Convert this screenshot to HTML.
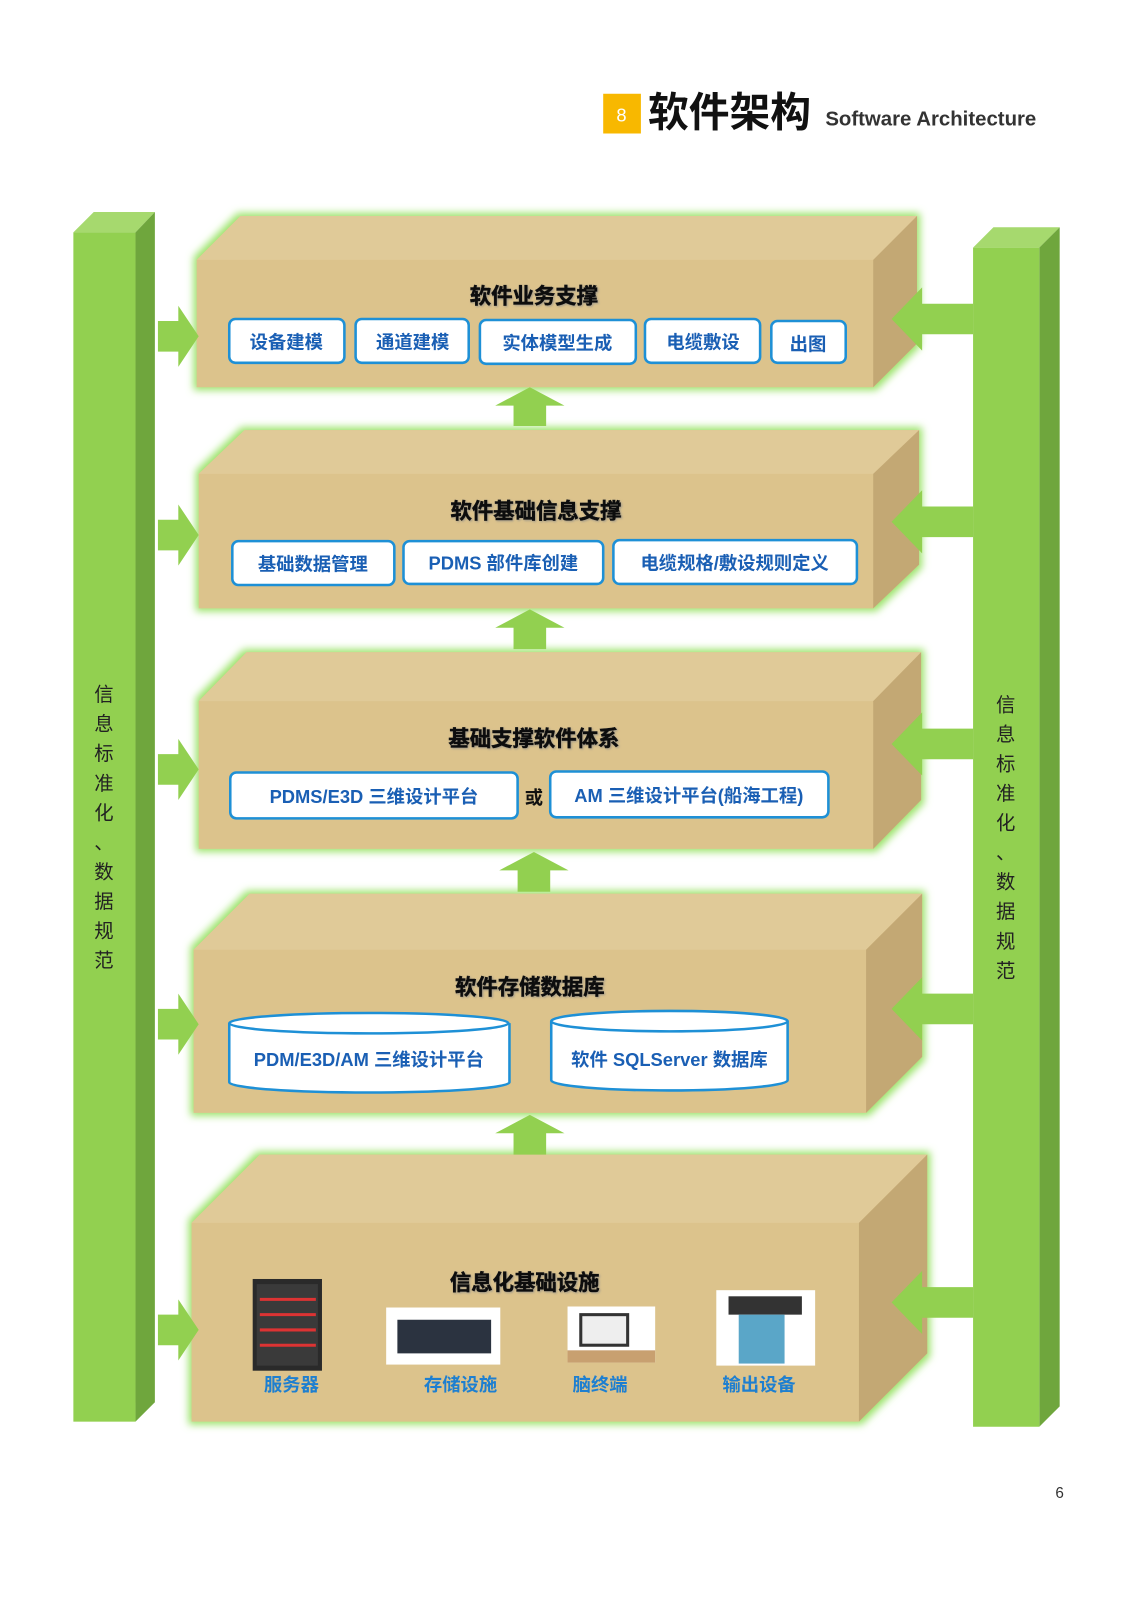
<!DOCTYPE html>
<html><head><meta charset="utf-8"><style>
html,body{margin:0;padding:0;background:#fff;}
svg{display:block;}
text{font-family:"Liberation Sans","Noto Sans CJK SC",sans-serif;}
</style></head><body>
<svg width="1131" height="1600" viewBox="0 0 1110 1570" preserveAspectRatio="none" xmlns="http://www.w3.org/2000/svg">
<defs>
<filter id="g" x="-10%" y="-10%" width="120%" height="120%">
<feMorphology in="SourceAlpha" operator="dilate" radius="3" result="d"/>
<feGaussianBlur in="d" stdDeviation="4" result="b"/>
<feFlood flood-color="#9be36a"/>
<feComposite in2="b" operator="in" result="s"/>
<feMerge><feMergeNode in="s"/><feMergeNode in="SourceGraphic"/></feMerge>
</filter>
<filter id="ts"><feDropShadow dx="1" dy="1" stdDeviation="1" flood-color="#888" flood-opacity="0.7"/></filter>
</defs>

<rect x="592" y="92" width="37" height="39" fill="#f8b800"/>
<text x="610" y="119" font-size="18" fill="#fff" text-anchor="middle">8</text>
<text x="636" y="124" font-size="40" font-weight="bold" fill="#111">软件架构</text>
<text x="810" y="123" font-size="20" font-weight="bold" fill="#333">Software Architecture</text>

<polygon points="72,228 92,208 152,208 133,228" fill="#a6d96e"/>
<polygon points="133,228 152,208 152,1376 133,1395" fill="#6fa63d"/>
<rect x="72" y="228" width="61" height="1167" fill="#92d050"/>
<polygon points="955,243 975,223 1040,223 1020,243" fill="#a6d96e"/>
<polygon points="1020,243 1040,223 1040,1380 1020,1400" fill="#6fa63d"/>
<rect x="955" y="243" width="65" height="1157" fill="#92d050"/>

<g font-size="19" fill="#222" text-anchor="middle">
<text x="102" y="688">信</text><text x="102" y="717">息</text><text x="102" y="746">标</text><text x="102" y="775">准</text><text x="102" y="804">化</text><text x="102" y="833">、</text><text x="102" y="862">数</text><text x="102" y="891">据</text><text x="102" y="920">规</text><text x="102" y="949">范</text>
<text x="987" y="698">信</text><text x="987" y="727">息</text><text x="987" y="756">标</text><text x="987" y="785">准</text><text x="987" y="814">化</text><text x="987" y="843">、</text><text x="987" y="872">数</text><text x="987" y="901">据</text><text x="987" y="930">规</text><text x="987" y="959">范</text>
</g>

<g filter="url(#g)">
<polygon points="193,255 236,212 900,212 900,337 857,380 193,380" fill="#dcc38c"/>
<polygon points="195,465 240,422 902,422 902,554 857,597 195,597" fill="#dcc38c"/>
<polygon points="195,688 242,640 904,640 904,785 857,833 195,833" fill="#dcc38c"/>
<polygon points="190,932 245,877 905,877 905,1037 850,1092 190,1092" fill="#dcc38c"/>
<polygon points="188,1200 255,1133 910,1133 910,1328 843,1395 188,1395" fill="#dcc38c"/>
</g>
<g fill="#e0ca98">
<polygon points="193,255 236,212 900,212 857,255"/>
<polygon points="195,465 240,422 902,422 857,465"/>
<polygon points="195,688 242,640 904,640 857,688"/>
<polygon points="190,932 245,877 905,877 850,932"/>
<polygon points="188,1200 255,1133 910,1133 843,1200"/>
</g>
<g fill="#c3a874">
<polygon points="857,255 900,212 900,337 857,380"/>
<polygon points="857,465 902,422 902,554 857,597"/>
<polygon points="857,688 904,640 904,785 857,833"/>
<polygon points="850,932 905,877 905,1037 850,1092"/>
<polygon points="843,1200 910,1133 910,1328 843,1395"/>
</g>

<g fill="#92d050">
<polygon points="486,398 520,380 554,398 536,398 536,418 504,418 504,398"/>
<polygon points="486,616 520,598 554,616 536,616 536,637 504,637 504,616"/>
<polygon points="490,854 524,836 558,854 540,854 540,875 508,875 508,854"/>
<polygon points="486,1112 520,1094 554,1112 536,1112 536,1133 504,1133 504,1112"/>
</g>
<g fill="#92d050">
<polygon points="155,315 175,315 175,300 195,330 175,360 175,345 155,345"/>
<polygon points="155,510 175,510 175,495 195,525 175,555 175,540 155,540"/>
<polygon points="155,740 175,740 175,725 195,755 175,785 175,770 155,770"/>
<polygon points="155,990 175,990 175,975 195,1005 175,1035 175,1020 155,1020"/>
<polygon points="155,1290 175,1290 175,1275 195,1305 175,1335 175,1320 155,1320"/>
</g>
<g fill="#92d050">
<polygon points="955,298 905,298 905,282 875,313 905,344 905,328 955,328"/>
<polygon points="955,497 905,497 905,481 875,512 905,543 905,527 955,527"/>
<polygon points="955,715 905,715 905,699 875,730 905,761 905,745 955,745"/>
<polygon points="955,975 905,975 905,959 875,990 905,1021 905,1005 955,1005"/>
<polygon points="955,1263 905,1263 905,1247 875,1278 905,1309 905,1293 955,1293"/>
</g>

<g font-size="21" font-weight="bold" fill="#111" stroke="#111" stroke-width="0.6" text-anchor="middle" filter="url(#ts)">
<text x="524" y="298">软件业务支撑</text>
<text x="526" y="509">软件基础信息支撑</text>
<text x="524" y="732">基础支撑软件体系</text>
<text x="520" y="976">软件存储数据库</text>
<text x="515" y="1266">信息化基础设施</text>
</g>

<g fill="#fff" stroke="#1e90d6" stroke-width="2.5">
<rect x="225" y="313" width="113" height="43" rx="6"/>
<rect x="349" y="313" width="111" height="43" rx="6"/>
<rect x="471" y="314" width="153" height="43" rx="6"/>
<rect x="633" y="313" width="113" height="43" rx="6"/>
<rect x="757" y="315" width="73" height="41" rx="6"/>
<rect x="228" y="531" width="159" height="43" rx="6"/>
<rect x="396" y="531" width="196" height="42" rx="6"/>
<rect x="602" y="530" width="239" height="43" rx="6"/>
<rect x="226" y="758" width="282" height="45" rx="6"/>
<rect x="540" y="757" width="273" height="45" rx="6"/>
</g>
<g font-size="18" font-weight="bold" fill="#1a5fb4" text-anchor="middle">
<text x="281" y="342">设备建模</text>
<text x="405" y="342">通道建模</text>
<text x="547" y="343">实体模型生成</text>
<text x="690" y="342">电缆敷设</text>
<text x="793" y="344">出图</text>
<text x="307" y="560">基础数据管理</text>
<text x="494" y="559">PDMS 部件库创建</text>
<text x="721" y="559">电缆规格/敷设规则定义</text>
<text x="367" y="788">PDMS/E3D 三维设计平台</text>
<text x="676" y="787">AM 三维设计平台(船海工程)</text>
</g>
<text x="524" y="789" font-size="18" font-weight="bold" fill="#111" text-anchor="middle">或</text>

<g fill="#fff" stroke="#1e90d6" stroke-width="2.5">
<path d="M225,1004 L225,1062 A137,10 0 0 0 500,1062 L500,1004"/>
<ellipse cx="362" cy="1004" rx="137" ry="10"/>
<path d="M541,1002 L541,1060 A116,10 0 0 0 773,1060 L773,1002"/>
<ellipse cx="657" cy="1002" rx="116" ry="10"/>
</g>
<g font-size="18" font-weight="bold" fill="#1a5fb4" text-anchor="middle">
<text x="362" y="1046">PDM/E3D/AM 三维设计平台</text>
<text x="657" y="1046">软件 SQLServer 数据库</text>
</g>

<rect x="248" y="1255" width="68" height="90" fill="#2a2a2a"/>
<rect x="252" y="1260" width="60" height="80" fill="#3a3a3a"/>
<g stroke-width="3"><line x1="255" y1="1275" x2="310" y2="1275" stroke="#d33"/><line x1="255" y1="1290" x2="310" y2="1290" stroke="#d33"/><line x1="255" y1="1305" x2="310" y2="1305" stroke="#d33"/><line x1="255" y1="1320" x2="310" y2="1320" stroke="#d33"/></g>
<rect x="379" y="1283" width="112" height="56" fill="#fff"/>
<rect x="390" y="1295" width="92" height="33" fill="#2b3340"/>
<rect x="557" y="1282" width="86" height="55" fill="#fff"/>
<rect x="557" y="1325" width="86" height="12" fill="#c8a070"/>
<rect x="570" y="1290" width="46" height="30" fill="#eee" stroke="#333" stroke-width="3"/>
<rect x="703" y="1266" width="97" height="74" fill="#fff"/>
<rect x="715" y="1272" width="72" height="18" fill="#333"/>
<rect x="725" y="1290" width="45" height="48" fill="#5aa6c8"/>
<g font-size="18" font-weight="bold" fill="#1e7fd0" text-anchor="middle">
<text x="286" y="1365">服务器</text>
<text x="452" y="1365">存储设施</text>
<text x="589" y="1365">脑终端</text>
<text x="745" y="1365">输出设备</text>
</g>

<text x="1040" y="1470" font-size="15" fill="#333" text-anchor="middle">6</text>
</svg>
</body></html>
